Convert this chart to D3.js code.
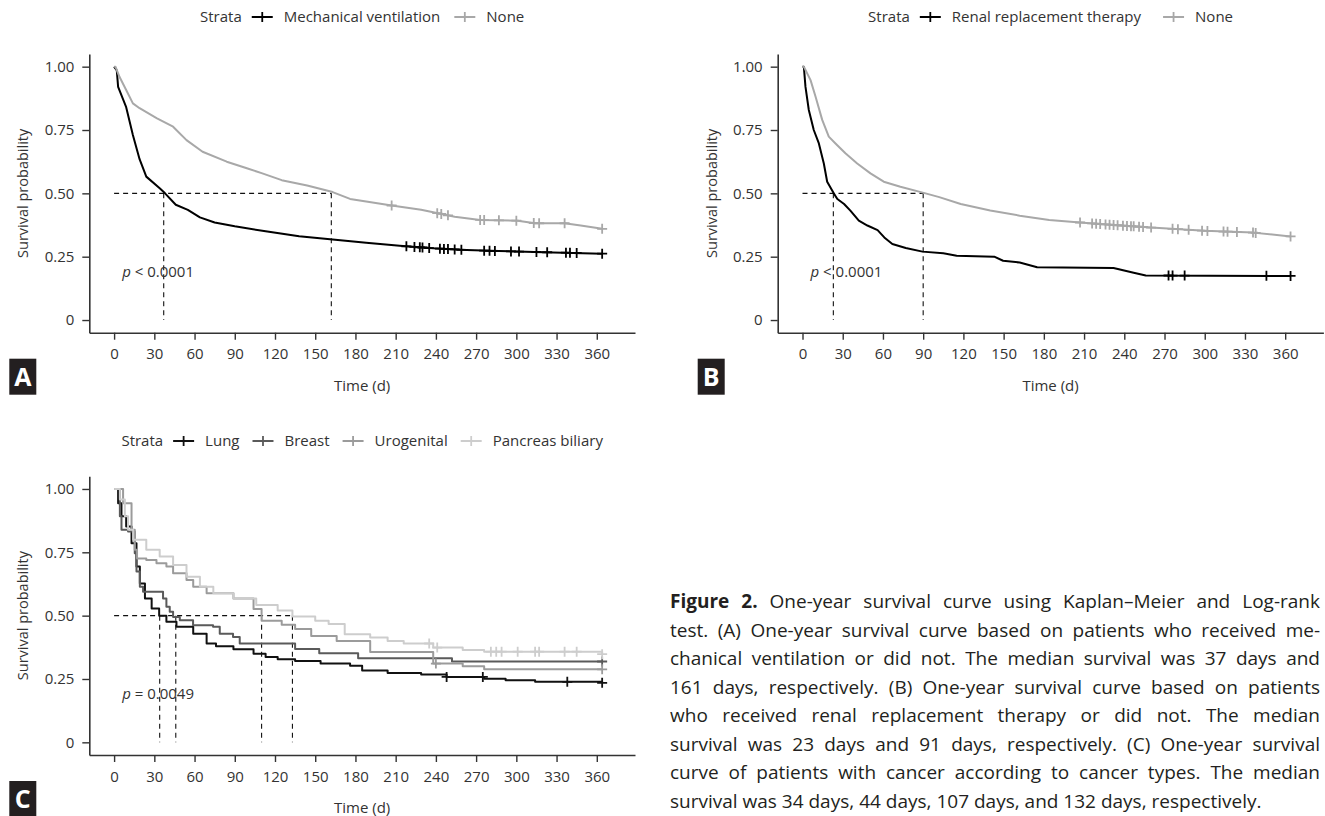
<!DOCTYPE html>
<html>
<head>
<meta charset="utf-8">
<script src="https://cdn.jsdelivr.net/npm/d3@7"></script>
<style>
  body { margin: 0; background: #fff; }
  text { font-family: "Open Sans", sans-serif; fill: #333; }
</style>
</head>
<body>
<svg id="fig" width="1325" height="816"></svg>
<script>
// ---- data ----
const timeTicks = [0, 30, 60, 90, 120, 150, 180, 210, 240, 270, 300, 330, 360];
const probTicks = [0, 0.25, 0.5, 0.75, 1];
const probLabels = ["0", "0.25", "0.50", "0.75", "1.00"];

// panel A: mechanical ventilation vs none
const mvTime = [0, 2, 3, 9, 14, 19, 24, 34, 38, 46, 55, 64, 75, 90, 113, 138, 163, 188, 213, 238, 263, 287, 320, 364];
const mvSurv = [1, 0.985, 0.92, 0.84, 0.73, 0.635, 0.566, 0.52, 0.50, 0.455, 0.435, 0.405, 0.385, 0.37, 0.35, 0.331, 0.318, 0.305, 0.293, 0.283, 0.276, 0.272, 0.268, 0.262];
const mvCensor = [218, 224, 228, 230, 235, 243, 246, 249, 254, 259, 276, 280, 284, 296, 302, 315, 323, 337, 340, 345, 364];
const noneATime = [0, 1, 4, 9, 14, 19, 32, 44, 54, 66, 84, 99, 110, 125, 144, 163, 176, 188, 207, 229, 238, 254, 273, 301, 314, 336, 348, 364];
const noneASurv = [1, 1, 0.96, 0.908, 0.855, 0.836, 0.796, 0.763, 0.71, 0.664, 0.625, 0.599, 0.58, 0.552, 0.531, 0.505, 0.478, 0.468, 0.452, 0.435, 0.425, 0.408, 0.395, 0.392, 0.382, 0.382, 0.373, 0.36];
const noneACensor = [207, 241, 244, 249, 273, 276, 287, 300, 313, 317, 336, 364];
const medianA = [37, 162];

// panel B: renal replacement therapy vs none
const rrtTime = [0, 1, 2.2, 4.7, 8.4, 12.2, 15.9, 18.4, 23.3, 26, 31, 35.7, 42, 48.4, 56, 61, 67, 77, 89.5, 105, 115, 143, 149.6, 162, 175, 232, 247, 256, 364];
const rrtSurv = [1, 1, 0.921, 0.829, 0.75, 0.697, 0.618, 0.546, 0.50, 0.478, 0.458, 0.432, 0.392, 0.373, 0.355, 0.326, 0.30, 0.284, 0.27, 0.264, 0.254, 0.25, 0.234, 0.227, 0.208, 0.205, 0.187, 0.176, 0.174];
const rrtCensor = [273, 276, 285, 346, 364];
const noneBTime = [0, 1, 6, 9.7, 14.7, 19.6, 24.6, 32, 40.8, 50.7, 60.6, 73, 90.4, 102, 118, 140, 162, 184, 207, 224, 260, 300, 336, 364];
const noneBSurv = [1, 1, 0.947, 0.882, 0.79, 0.724, 0.697, 0.658, 0.618, 0.579, 0.546, 0.526, 0.502, 0.485, 0.458, 0.432, 0.412, 0.395, 0.385, 0.378, 0.365, 0.352, 0.345, 0.33];
const noneBCensor = [207, 216, 219, 222, 226, 229, 232, 235, 239, 242, 245, 247, 251, 254, 260, 276, 280, 288, 298, 302, 314, 317, 324, 336, 338, 364];
const medianB = [23, 90];

// panel C: cancer types
const lungTime = [0, 3, 5.5, 9, 13, 16.7, 19.2, 23, 28, 33.6, 39, 46.5, 59, 69, 76, 89, 104, 113, 122, 135, 154, 176, 185, 204, 229, 248, 276, 292, 314, 364];
const lungSurv = [1, 0.944, 0.892, 0.852, 0.786, 0.694, 0.627, 0.568, 0.528, 0.50, 0.476, 0.456, 0.429, 0.39, 0.379, 0.367, 0.35, 0.337, 0.328, 0.321, 0.311, 0.302, 0.284, 0.274, 0.268, 0.258, 0.251, 0.245, 0.239, 0.235];
const lungCensor = [248, 275, 338, 364];
const breastTime = [0, 4.3, 5.5, 10.4, 15.4, 16.7, 19.2, 21.6, 36.5, 39, 41.5, 44, 49, 58.9, 73.8, 78.8, 88.7, 93.7, 135, 153, 182, 252, 364];
const breastSurv = [1, 0.892, 0.839, 0.832, 0.746, 0.674, 0.614, 0.594, 0.568, 0.535, 0.515, 0.495, 0.482, 0.462, 0.456, 0.429, 0.416, 0.39, 0.368, 0.352, 0.332, 0.319, 0.319];
const breastCensor = [364];
const urogenitalTime = [0, 4, 6.7, 13, 15.4, 17.1, 24, 31.6, 39, 44, 54, 59, 69, 89, 104, 110, 125, 135, 147, 166, 191, 238, 260, 276, 364];
const urogenitalSurv = [1, 1, 0.944, 0.839, 0.76, 0.726, 0.72, 0.707, 0.694, 0.667, 0.641, 0.614, 0.588, 0.568, 0.526, 0.48, 0.464, 0.447, 0.42, 0.40, 0.357, 0.311, 0.30, 0.288, 0.288];
const urogenitalCensor = [240, 364];
const pancreasTime = [0, 4.3, 8, 10.4, 14.2, 24, 34, 44, 54, 64, 74, 89, 106, 122, 133, 150, 160, 172, 191, 204, 216, 238, 260, 276, 364];
const pancreasSurv = [1, 0.958, 0.892, 0.839, 0.80, 0.76, 0.733, 0.70, 0.654, 0.614, 0.588, 0.568, 0.542, 0.52, 0.497, 0.48, 0.467, 0.427, 0.414, 0.40, 0.39, 0.374, 0.364, 0.358, 0.348];
const pancreasCensor = [235, 241, 281, 285, 289, 301, 314, 317, 336, 345, 364];
const medianC = [34, 46, 110, 133];

const captionLines = [
  "Figure 2. One-year survival curve using Kaplan\u2013Meier and Log-rank",
  "test. (A) One-year survival curve based on patients who received me-",
  "chanical ventilation or did not. The median survival was 37 days and",
  "161 days, respectively. (B) One-year survival curve based on patients",
  "who received renal replacement therapy or did not. The median",
  "survival was 23 days and 91 days, respectively. (C) One-year survival",
  "curve of patients with cancer according to cancer types. The median",
  "survival was 34 days, 44 days, 107 days, and 132 days, respectively."
];

const svg = d3.select("#fig");

// value of a curve at time t (linear between read points, or step)
function survAt(times, surv, t, step) {
  for (let i = times.length - 1; i >= 0; i--) {
    if (times[i] <= t) {
      if (step || i == times.length - 1) return surv[i];
      const f = (t - times[i]) / (times[i + 1] - times[i]);
      return surv[i] + f * (surv[i + 1] - surv[i]);
    }
  }
  return surv[0];
}

function drawPanel(p) {
  const x = d3.scaleLinear().domain([-18.5, 388.5]).range([p.left, p.right]);
  const y = d3.scaleLinear().domain([-0.05, 1.05]).range([p.bottom, p.top]);
  const g = svg.append("g");

  // axes
  const xAxis = g.append("g")
    .attr("transform", "translate(0," + p.bottom + ")")
    .call(d3.axisBottom(x).tickValues(timeTicks).tickSize(7).tickSizeOuter(0).tickPadding(9));
  const yAxis = g.append("g")
    .attr("transform", "translate(" + p.left + ",0)")
    .call(d3.axisLeft(y).tickValues(probTicks).tickFormat((d, i) => probLabels[i])
      .tickSize(7).tickSizeOuter(0).tickPadding(8));
  [xAxis, yAxis].forEach(a => {
    a.select(".domain").attr("stroke", "#333").attr("stroke-width", 1.6);
    a.selectAll(".tick line").attr("stroke", "#333").attr("stroke-width", 1.4);
    a.selectAll(".tick text").attr("font-size", 15).attr("font-family", "Open Sans").attr("fill", "#333");
  });

  g.append("text")
    .attr("x", (p.left + p.right) / 2).attr("y", p.bottom + 58)
    .attr("text-anchor", "middle").attr("font-size", 15)
    .text("Time (d)");
  g.append("text")
    .attr("transform", "translate(" + (p.left - 66) + "," + ((p.top + p.bottom) / 2) + ") rotate(-90)")
    .attr("text-anchor", "middle").attr("dy", "0.35em").attr("font-size", 14.5)
    .text("Survival probability");

  // median reference lines
  const mMax = d3.max(p.medians);
  g.append("line")
    .attr("x1", x(0)).attr("x2", x(mMax)).attr("y1", y(0.5)).attr("y2", y(0.5))
    .attr("stroke", "#111").attr("stroke-width", 1.1).attr("stroke-dasharray", "5,4");
  g.selectAll(".med").data(p.medians).enter().append("line")
    .attr("x1", d => x(d)).attr("x2", d => x(d)).attr("y1", y(0.5)).attr("y2", y(0))
    .attr("stroke", "#111").attr("stroke-width", 1.1).attr("stroke-dasharray", "5,4");

  // curves
  p.series.forEach(s => {
    const pts = s.time.map((t, i) => [t, s.surv[i]]);
    const line = d3.line().x(d => x(d[0])).y(d => y(d[1]))
      .curve(p.step ? d3.curveStepAfter : d3.curveLinear);
    g.append("path").datum(pts).attr("d", line)
      .attr("fill", "none").attr("stroke", s.color).attr("stroke-width", 2)
      .attr("stroke-linejoin", "round");
    g.selectAll(null).data(s.censor).enter().append("path")
      .attr("d", d => {
        const cx = x(d), cy = y(survAt(s.time, s.surv, d, p.step));
        return "M" + (cx - 5) + "," + cy + "h10M" + cx + "," + (cy - 5) + "v10";
      })
      .attr("stroke", s.color).attr("stroke-width", 1.8).attr("fill", "none");
  });

  // p value
  const pv = g.append("text").attr("x", x(6)).attr("y", y(0.19)).attr("dy", "0.35em").attr("font-size", 15);
  pv.append("tspan").attr("font-style", "italic").text("p");
  pv.append("tspan").text(" " + p.pval);

  // legend
  const lg = g.append("g");
  const cy = p.legendY;
  const st = lg.append("text").attr("x", 0).attr("y", cy).attr("dy", "0.35em").attr("font-size", 15).text("Strata");
  let xp = st.node().getComputedTextLength() + 10;
  p.series.forEach((s, i) => {
    lg.append("line").attr("x1", xp).attr("x2", xp + 21).attr("y1", cy).attr("y2", cy)
      .attr("stroke", s.color).attr("stroke-width", 2);
    lg.append("line").attr("x1", xp + 10.5).attr("x2", xp + 10.5).attr("y1", cy - 5).attr("y2", cy + 5)
      .attr("stroke", s.color).attr("stroke-width", 1.8);
    xp += 32;
    const lt = lg.append("text").attr("x", xp).attr("y", cy).attr("dy", "0.35em").attr("font-size", 15).text(s.name);
    xp += lt.node().getComputedTextLength();
    if (i < p.series.length - 1) xp += p.legendGap;
  });
  lg.attr("transform", "translate(" + ((p.left + p.right) / 2 - xp / 2) + ",0)");

  // panel letter
  g.append("rect").attr("x", p.left - 80).attr("y", p.bottom + 26).attr("width", 27).attr("height", 36)
    .attr("fill", "#231f20");
  g.append("text").attr("x", p.left - 66.5).attr("y", p.bottom + 44).attr("dy", "0.36em")
    .attr("text-anchor", "middle").attr("font-size", 25).attr("font-weight", "bold")
    .style("fill", "#fff").text(p.letter);
}

drawPanel({
  letter: "A", left: 89.3, right: 635, top: 54, bottom: 332.7, legendY: 17, legendGap: 14,
  step: false, pval: "< 0.0001", medians: medianA,
  series: [
    { name: "Mechanical ventilation", color: "#000", time: mvTime, surv: mvSurv, censor: mvCensor },
    { name: "None", color: "#a8a8a8", time: noneATime, surv: noneASurv, censor: noneACensor }
  ]
});
drawPanel({
  letter: "B", left: 777.7, right: 1323.4, top: 54, bottom: 332.7, legendY: 17, legendGap: 22,
  step: false, pval: "< 0.0001", medians: medianB,
  series: [
    { name: "Renal replacement therapy", color: "#000", time: rrtTime, surv: rrtSurv, censor: rrtCensor },
    { name: "None", color: "#a8a8a8", time: noneBTime, surv: noneBSurv, censor: noneBCensor }
  ]
});
drawPanel({
  letter: "C", left: 89.3, right: 635, top: 476.3, bottom: 755, legendY: 441, legendGap: 13,
  step: true, pval: "= 0.0049", medians: medianC,
  series: [
    { name: "Lung", color: "#111", time: lungTime, surv: lungSurv, censor: lungCensor },
    { name: "Breast", color: "#5a5a5a", time: breastTime, surv: breastSurv, censor: breastCensor },
    { name: "Urogenital", color: "#9b9b9b", time: urogenitalTime, surv: urogenitalSurv, censor: urogenitalCensor },
    { name: "Pancreas biliary", color: "#cdcdcd", time: pancreasTime, surv: pancreasSurv, censor: pancreasCensor }
  ]
});

// caption, justified between capL and capR
const capL = 670, capR = 1320, capTop = 608, capStep = 28.5;
const cap = svg.append("g").attr("font-size", 19);
const probe = cap.append("text").attr("font-size", 19);
function wordWidth(w, bold) {
  probe.attr("font-weight", bold ? "bold" : "normal").text(w);
  return probe.node().getComputedTextLength();
}
const spaceW = wordWidth("a a") - 2 * wordWidth("a");
captionLines.forEach((ln, li) => {
  const words = ln.split(" ");
  const bolds = words.map((w, wi) => li == 0 && wi < 2);
  const widths = words.map((w, wi) => wordWidth(w, bolds[wi]));
  const last = li == captionLines.length - 1;
  const gap = last ? spaceW : (capR - capL - d3.sum(widths)) / (words.length - 1);
  let xp = capL;
  words.forEach((w, wi) => {
    cap.append("text").attr("x", xp).attr("y", capTop + li * capStep)
      .attr("font-weight", bolds[wi] ? "bold" : "normal").style("fill", "#231f20").text(w);
    xp += widths[wi] + gap;
  });
});
probe.remove();
</script>
</body>
</html>
